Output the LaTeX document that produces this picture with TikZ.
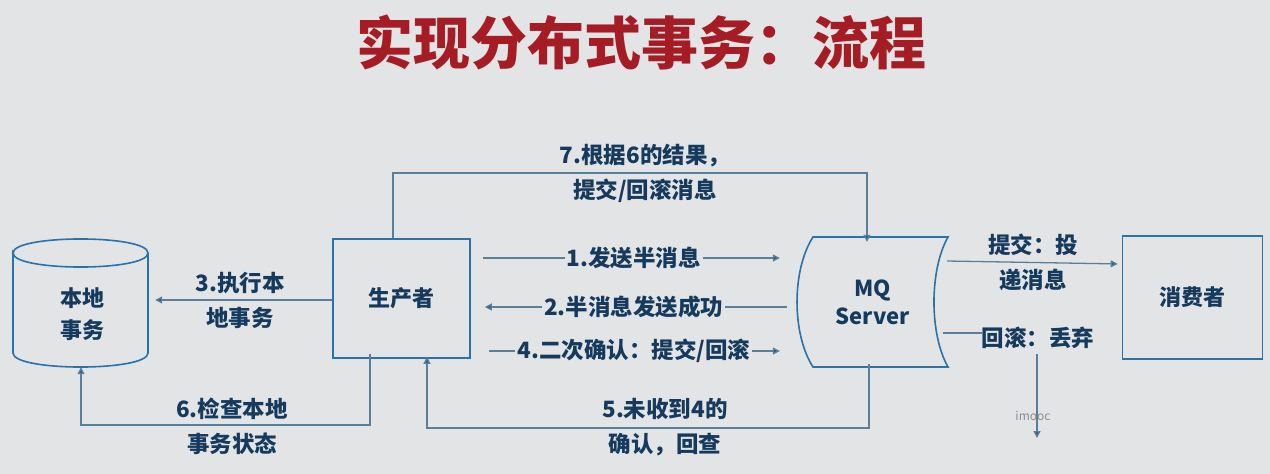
\documentclass[tikz,border=0pt]{standalone}
\usepackage{fontspec}
\setmainfont{Noto Sans CJK SC}
\usetikzlibrary{arrows.meta,calc}
\definecolor{bgc}{HTML}{E3E4E6}
\definecolor{titlec}{HTML}{A51C24}
\definecolor{txtc}{HTML}{153A5E}
\definecolor{boxc}{HTML}{2673AE}
\definecolor{linec}{HTML}{5A7F9A}
\definecolor{tipc}{HTML}{2A5C86}
\definecolor{wmc}{HTML}{8A8C90}
\tikzset{
  boxn/.style={draw=boxc,line width=1.6pt,fill=none,text=txtc,font=\fontsize{22}{26}\selectfont\bfseries,inner sep=0pt},
  plain/.style={text=txtc,font=\fontsize{22}{26}\selectfont\bfseries,inner sep=0pt},
  lbl/.style={text=txtc,font=\fontsize{22.5}{35}\selectfont\bfseries,align=center,inner sep=0pt},
  flbl/.style={lbl,fill=bgc,inner xsep=2pt,inner ysep=3pt},
  conn/.style={draw=linec,line width=1.3pt,-{Triangle[length=7pt,width=7pt,fill=tipc]}},
  connx/.style={draw=linec,line width=1.3pt},
}
\begin{document}
\begin{tikzpicture}[x=1pt,y=-1pt]
\useasboundingbox[fill=bgc] (0,0) rectangle (1270,474);
% title
\node[text=titlec,font=\fontsize{57}{62}\selectfont\bfseries,inner sep=0pt] (title) at (641,42) {实现分布式事务：流程};
% nodes
\node[boxn,minimum width=137pt,minimum height=119pt] (prod) at (401.5,298.5) {生产者};
\node[boxn,minimum width=140pt,minimum height=123pt] (cons) at (1192.5,297.5) {消费者};
% cylinder
\node[plain,minimum width=135pt,minimum height=128pt,align=center,font=\fontsize{22}{32}\selectfont\bfseries] (db) at (80.5,303) {};
\node[plain,align=center,font=\fontsize{22}{32}\selectfont\bfseries] (dbt) at (82,314) {本地\\事务};
\draw[boxc,line width=1.6pt] (13,253) .. controls (13,234.3) and (148,234.3) .. (148,253)
  .. controls (148,271.7) and (13,271.7) .. (13,253) -- (13,353)
  .. controls (13,371.7) and (148,371.7) .. (148,353) -- (148,253);
% MQ server
\node[plain,minimum width=151pt,minimum height=130pt,align=center,font=\fontsize{22}{28}\selectfont\bfseries] (mq) at (872.5,302) {MQ\\Server};
\draw[boxc,line width=1.6pt] (813,237) -- (948,237) .. controls (929.3,270) and (929.3,334) .. (948,367)
  -- (813,367) .. controls (791.7,334) and (791.7,270) .. (813,237) -- cycle;
% levels
\coordinate (y1) at (0,258);
\coordinate (y2) at (0,307);
\coordinate (y4) at (0,351);
\coordinate (y3) at (0,300);
% 1
\draw[conn,shorten <=12pt,shorten >=17pt] (prod.east |- y1) -- node[flbl]{1.发送半消息} (mq.west |- y1);
% 2
\draw[conn,shorten <=10pt,shorten >=14pt] (mq.west |- y2) -- node[flbl]{2.半消息发送成功} (prod.east |- y2);
% 4
\draw[conn,shorten <=18pt,shorten >=17pt] (prod.east |- y4) -- node[flbl]{4.二次确认：提交/回滚} (mq.west |- y4);
% 3
\draw[conn,shorten >=7pt] (prod.west |- y3) -- node[lbl]{3.执行本\\地事务} (db.east |- y3);
% 6
\coordinate (c6a) at (370,425);
\coordinate (c6b) at (81,425);
\draw[conn] ([yshift=5pt]prod.south -| c6a) -- (c6a) -- (c6b) -- (db.south -| c6b);
\node[lbl] (l6) at (232,426) {6.检查本地\\事务状态};
% 5
\coordinate (c5a) at (869,428);
\coordinate (c5b) at (427,428);
\draw[conn] ([yshift=3pt]mq.south -| c5a) -- (c5a) -- (c5b) -- ([yshift=2pt]prod.south -| c5b);
\node[lbl] (l5) at (665,427) {5.未收到4的\\确认，回查};
% 7
\coordinate (c7a) at (393,173);
\coordinate (c7b) at (867,173);
\draw[conn] (prod.north -| c7a) -- (c7a) -- (c7b) -- ([yshift=-5pt]mq.north -| c7b);
\node[lbl] (l7) at (645,173) {7.根据6的结果，\\提交/回滚消息};
% to consumer
\draw[conn,shorten >=4pt] (947,261) -- (cons.west |- 0,264);
\node[lbl] (lc) at (1033,262) {提交：投\\递消息};
% rollback
\coordinate (rb) at (1037,438);
\node[lbl] (lr) at (1038,338) {回滚：丢弃};
\draw[connx] (943,333) -- (lr.west |- 0,333);
\draw[conn] ([yshift=-5pt]lr.south -| rb) -- (rb);
% watermark
\node[text=wmc,font=\fontsize{12}{14}\selectfont,inner sep=0pt] (wm) at (1033,416) {imooc};
\end{tikzpicture}
\end{document}
